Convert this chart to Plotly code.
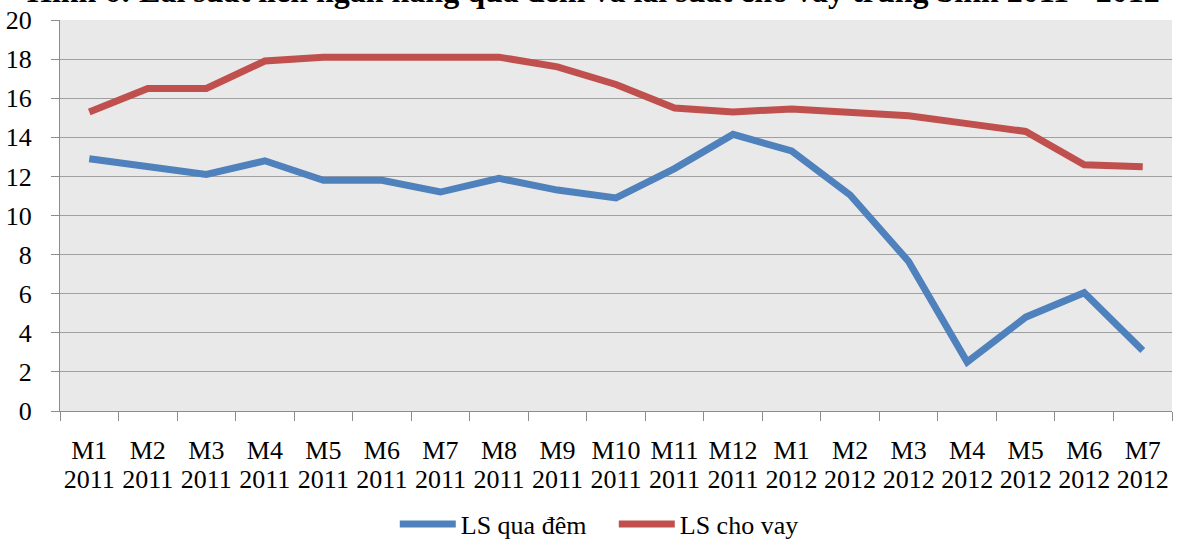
import plotly.graph_objects as go

categories = ["M1 2011", "M2 2011", "M3 2011", "M4 2011", "M5 2011", "M6 2011", "M7 2011",
              "M8 2011", "M9 2011", "M10 2011", "M11 2011", "M12 2011", "M1 2012", "M2 2012",
              "M3 2012", "M4 2012", "M5 2012", "M6 2012", "M7 2012"]
month_labels = ["M1", "M2", "M3", "M4", "M5", "M6", "M7", "M8", "M9", "M10", "M11", "M12",
                "M1", "M2", "M3", "M4", "M5", "M6", "M7"]
year_labels = ["2011"] * 12 + ["2012"] * 7
ls_qua_dem = [12.9, 12.5, 12.1, 12.8, 11.8, 11.8, 11.2, 11.9, 11.3, 10.9, 12.4, 14.15,
              13.3, 11.05, 7.65, 2.5, 4.8, 6.05, 3.1]
ls_cho_vay = [15.3, 16.5, 16.5, 17.9, 18.1, 18.1, 18.1, 18.1, 17.6, 16.7, 15.5, 15.3,
              15.45, 15.3, 15.1, 14.7, 14.3, 12.6, 12.5]
y_ticks = list(range(0, 21, 2))

font_family = "Liberation Serif"
fs = 26
axis_grey = "#8c8c8c"

fig = go.Figure()
fig.add_trace(go.Scatter(x=categories, y=ls_qua_dem, mode="lines", name="LS qua đêm",
                         line=dict(color="#4f81bd", width=7)))
fig.add_trace(go.Scatter(x=categories, y=ls_cho_vay, mode="lines", name="LS cho vay",
                         line=dict(color="#c0504d", width=7)))

n = len(categories)
fig.update_layout(
    width=1179, height=542,
    margin=dict(l=60, r=7, t=20, b=131, autoexpand=False),
    paper_bgcolor="white",
    plot_bgcolor="#e9e9e9",
    font=dict(family=font_family, size=fs, color="black"),
    showlegend=True,
    legend=dict(orientation="h", x=0.498, xanchor="center", yref="paper", y=-0.229, yanchor="top",
                font=dict(size=fs, family=font_family, color="black"), bgcolor="rgba(0,0,0,0)",
                itemwidth=56, entrywidth=148, entrywidthmode="pixels"),
    annotations=[dict(text="<b>Hình 6: Lãi suất liên ngân hàng qua đêm và lãi suất cho vay trung bình 2011 - 2012</b>",
                      xref="paper", yref="paper", x=0.48, y=1.074, xanchor="center", yanchor="middle",
                      showarrow=False, font=dict(size=32, family=font_family))],
    xaxis=dict(type="category", categoryarray=categories, tickvals=categories, ticktext=month_labels,
               range=[-0.5, n - 0.5], showgrid=False, showline=True, linecolor=axis_grey, linewidth=1,
               ticks="outside", tickson="boundaries", ticklen=9, tickcolor=axis_grey,
               ticklabelstandoff=16, automargin=False),
    xaxis2=dict(overlaying="x", anchor="y", side="bottom", range=[-0.5, n - 0.5],
                tickvals=list(range(n)), ticktext=year_labels, showgrid=False, showline=False,
                zeroline=False, ticks="", ticklabelstandoff=50, automargin=False),
    yaxis=dict(range=[0, 20], tickvals=y_ticks, showgrid=True, gridcolor="#a0a0a0", gridwidth=1.3,
               showline=True, linecolor=axis_grey, ticks="outside", ticklen=8, tickcolor=axis_grey,
               zeroline=False, automargin=False, ticklabelstandoff=14),
)
# invisible helper trace so the year axis is drawn
fig.add_trace(go.Scatter(x=[0], y=[None], xaxis="x2", showlegend=False, hoverinfo="skip"))

fig.write_html("out.html", config={"displayModeBar": False},
               post_script="document.body.style.margin='0';")
